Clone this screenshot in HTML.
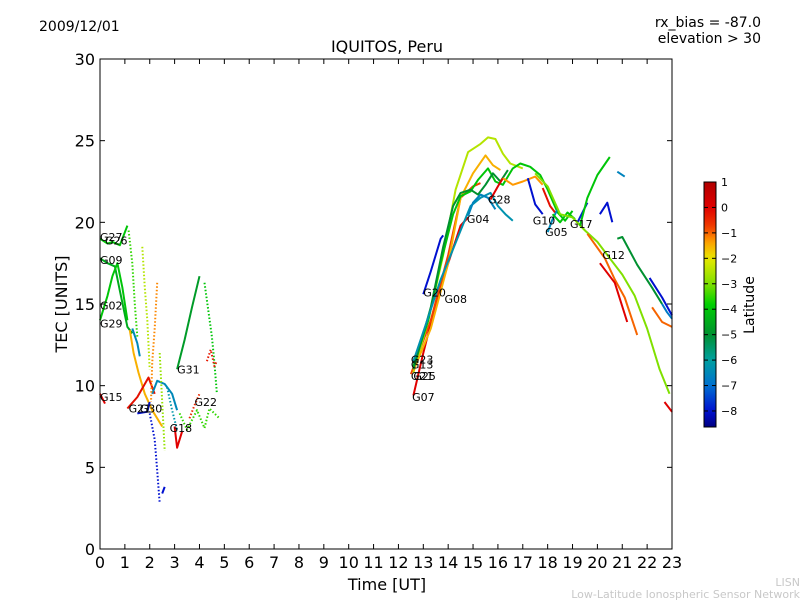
<!DOCTYPE html>
<html><head><meta charset="utf-8"><style>
body{margin:0;background:#fff;width:800px;height:600px;overflow:hidden}
svg{display:block;font-family:"DejaVu Sans","Liberation Sans",sans-serif}
</style></head><body>
<svg id="c" width="800" height="600" xmlns="http://www.w3.org/2000/svg">
<text x="39" y="31" font-size="14">2009/12/01</text>
<text x="761" y="27" font-size="14" text-anchor="end">rx_bias = -87.0</text>
<text x="761" y="43" font-size="14" text-anchor="end">elevation &gt; 30</text>
<text x="387" y="52" font-size="16" text-anchor="middle">IQUITOS, Peru</text>
<text x="387" y="590" font-size="16" text-anchor="middle">Time [UT]</text>
<text x="67" y="304" font-size="16" text-anchor="middle" transform="rotate(-90 67 304)">TEC [UNITS]</text>
<text x="800" y="586" font-size="11" fill="#c8c8c8" text-anchor="end">LISN</text>
<text x="800" y="598" font-size="11" fill="#c8c8c8" text-anchor="end">Low-Latitude Ionospheric Sensor Network</text>
<g id="tracks"></g>
<g id="axes"></g>
<g id="labels"></g>
<g id="cbar"></g>
<text x="754" y="305" font-size="14" text-anchor="middle" transform="rotate(-90 754 305)">Latitude</text>
</svg>
<script>
const xTicks=[0,1,2,3,4,5,6,7,8,9,10,11,12,13,14,15,16,17,18,19,20,21,22,23];
const yTicks=[0,5,10,15,20,25,30];
const cbTicks=[1,0,-1,-2,-3,-4,-5,-6,-7,-8];
const latMin=-8.63, latMax=1;
const trackLat=[-4,-3.5,-4.5,-4,-6.5,-1.5,-0.2,0,-8,-8,-6.5,-4.8,-4,-1.2,-2.5,-0.3,0,-6.2,-3.5,-8,-2.8,-0.5,
 0,-0.8,-2.5,-1.5,-4,-5,-6.3,-8,-6.6,0,-1.3,-0.2,-8,-6.5,-4,-7.8,-3,-1,0,-4,-5,-6.8,-8,-1,0,-8,-6.6];
const trackDot=[0,1,0,0,0,0,0,0,0,1,0,0,1,1,1,1,0,1,1,0,1,1,
 0,0,0,0,0,0,0,0,0,0,0,0,0,0,0,0,0,0,0,0,0,0,0,0,0,0,0];
const trackPts=[
 [[0,19],[0.3,18.7],[0.5,18.8],[0.8,18.6],[1.1,19.8]],
 [[1.15,19.5],[1.3,17.5],[1.4,15],[1.5,13]],
 [[0,17.8],[0.3,17.5],[0.6,17.3],[0.8,15.8],[1.1,13.6],[1.3,13.2]],
 [[0,14],[0.3,15.5],[0.5,16.7],[0.7,17.5],[0.9,16],[1.1,14]],
 [[1.3,13.5],[1.5,12.6],[1.6,11.8]],
 [[1.2,13.4],[1.35,12],[1.55,10.8],[1.8,9.5],[2.1,8.5],[2.5,7.5]],
 [[1.1,8.6],[1.5,9.3],[1.95,10.5],[2.2,9.5]],
 [[0,9.5],[0.2,8.9]],
 [[1.5,8.3],[1.9,8.4],[2.0,9.0]],
 [[2.0,8.3],[2.2,6.7],[2.3,4.8],[2.4,2.8]],
 [[2.1,9.5],[2.3,10.3],[2.6,10.1],[2.9,9.5],[3.1,8.5]],
 [[3.1,11],[3.4,12.8],[3.7,14.8],[4.0,16.7]],
 [[4.2,16.3],[4.5,13],[4.6,11.4],[4.7,9.5]],
 [[2.3,16.3],[2.2,13.5],[2.1,11.4],[2.05,9]],
 [[1.7,18.5],[1.8,16],[1.9,14],[2.0,11]],
 [[4.3,11.5],[4.45,12.2],[4.6,11.2],[4.7,11.5]],
 [[3.0,7.5],[3.1,6.2],[3.3,7.2]],
 [[2.7,9.9],[2.9,8.5],[3.1,7.3]],
 [[3.2,8.3],[3.5,7.3],[3.9,8.5],[4.2,7.4],[4.4,8.6],[4.8,8]],
 [[2.5,3.4],[2.6,3.8]],
 [[2.4,12],[2.5,9],[2.6,6]],
 [[3.6,8],[3.8,8.8],[4.0,9.5]],
 [[12.6,9.4],[13,12],[13.5,15],[14,17.5],[14.5,19.8],[14.8,20.3]],
 [[12.5,10.7],[13.3,14],[14.0,18],[14.5,21.5],[15.0,22.2],[15.3,22.4]],
 [[12.6,10.8],[13.2,14],[13.8,18],[14.3,22],[14.8,24.3],[15.3,24.8],[15.6,25.2],[15.9,25.1],[16.2,24.2],[16.5,23.6],[17,23.3]],
 [[12.6,10.9],[13.3,13.5],[14,17.5],[14.5,21.5],[15,23],[15.5,24.1],[15.8,23.5],[16.1,23.2]],
 [[12.6,11.2],[13.2,14],[13.7,17.5],[14.2,20.5],[14.5,21.6],[14.9,21.9],[15.2,22.6],[15.6,23.3],[15.9,22.5],[16.2,22.3],[16.6,23.3],[16.9,23.6],[17.3,23.4],[17.7,22.9],[18.0,22.0],[18.4,20.6],[18.7,20.1],[19.0,20.7]],
 [[12.6,11],[13.3,14.8],[13.8,18.5],[14.2,21],[14.5,21.8],[14.9,22.0],[15.2,21.7],[15.5,22.3],[15.8,23.0],[16.1,22.5],[16.4,23.2]],
 [[12.6,11.5],[13.2,14.2],[13.7,16.5],[14.1,18],[14.5,19.5],[14.9,21],[15.3,21.5],[15.7,21.8],[16,21.0],[16.3,20.5],[16.6,20.1]],
 [[13.0,15.6],[13.3,17.0],[13.7,19.0],[13.8,19.2]],
 [[14.8,20.4],[15.0,21.2],[15.3,21.7],[15.6,21.5],[15.9,20.8]],
 [[15.7,21.4],[16.0,22.2],[16.2,22.7]],
 [[16.2,22.7],[16.6,22.3],[17.0,22.5],[17.5,22.8],[17.8,22.3]],
 [[17.8,22.1],[18.1,21.0],[18.3,20.6]],
 [[17.2,22.7],[17.5,21.1],[17.8,20.5]],
 [[18.0,19.4],[18.2,20.2],[18.4,20.8]],
 [[18.2,20.5],[18.5,20.0],[18.8,20.6],[19.1,20.2]],
 [[19.2,20.0],[19.6,21.2]],
 [[17.5,23],[18.0,22.2],[18.5,20.5],[19.0,20.3],[19.5,19.5],[20.0,18.8],[20.5,17.8],[21.0,16.8],[21.5,15.5],[22.0,13.5],[22.5,11],[22.9,9.5]],
 [[19.6,19.3],[20.3,17.8],[20.7,16.5],[21.1,15.4],[21.6,13.1]],
 [[20.1,17.5],[20.7,16.3],[21.2,13.9]],
 [[19.3,19.8],[19.6,21.5],[20.0,22.9],[20.5,24.0]],
 [[20.8,19.0],[21.0,19.1],[21.6,17.4],[22.2,16.0],[22.6,15]],
 [[22.6,15],[22.8,14.5],[23,14.1]],
 [[20.1,20.5],[20.4,21.2],[20.6,20]],
 [[22.2,14.8],[22.6,13.9],[23,13.6]],
 [[22.7,9],[23,8.4]],
 [[22.1,16.6],[22.6,15.4],[23,14.3]],
 [[20.8,23.1],[21.1,22.8]]
];
const satNames=["G27","G26","G09","G02","G29","G15","G21","G30","G31","G22","G18","G23","G13","G21","G25","G07","G20","G08","G04","G28","G10","G05","G17","G12"];
const satT=[0,0.2,0,0,0,0,1.15,1.6,3.1,3.8,2.8,12.5,12.5,12.5,12.6,12.55,13.0,13.85,14.75,15.6,17.4,17.9,18.9,20.2];
const satV=[19.1,18.9,17.7,14.9,13.8,9.3,8.6,8.6,11,9,7.4,11.6,11.3,10.6,10.6,9.3,15.7,15.3,20.2,21.4,20.1,19.4,19.9,18.0];
const cmapLat=[1,0,-0.8,-1.3,-2,-3,-3.8,-5,-6,-7,-8,-8.63];
const cmapCol=[[176,0,0],[224,0,0],[240,64,0],[255,153,0],[232,232,0],[128,224,0],[0,208,0],[0,144,48],[0,160,160],[0,112,208],[0,16,208],[0,0,128]];

const NS='http://www.w3.org/2000/svg';
const X0=100,X1=672,Y0=549,Y1=59;
const xs=t=>X0+t*(X1-X0)/23, ys=v=>Y0-v*(Y0-Y1)/30;
function cmap(l){l=Math.max(latMin,Math.min(latMax,l));
 for(let i=0;i<cmapLat.length-1;i++){const a=cmapLat[i],b=cmapLat[i+1];
  if(l<=a&&l>=b){const f=(a-l)/(a-b);const c=cmapCol[i].map((v,k)=>Math.round(v+(cmapCol[i+1][k]-v)*f));return `rgb(${c})`;}}
 return 'rgb(0,0,128)';}
function mk(tag,at,parent){const e=document.createElementNS(NS,tag);for(const k in at)e.setAttribute(k,at[k]);parent.appendChild(e);return e;}
const gT=document.getElementById('tracks');
trackPts.forEach((pts,i)=>{
 const d=pts.map((p,j)=>(j?'L':'M')+xs(p[0]).toFixed(1)+','+ys(p[1]).toFixed(1)).join('');
 const a={d:d,fill:'none',stroke:cmap(trackLat[i]),'stroke-width':2,'stroke-linejoin':'round'};
 if(trackDot[i])a['stroke-dasharray']='1.5,2';
 const e=mk('path',a,gT);
 
 
});
const gA=document.getElementById('axes');
const fr=mk('rect',{x:X0,y:Y1,width:X1-X0,height:Y0-Y1,fill:'none',stroke:'#000','stroke-width':1},gA);


xTicks.forEach(t=>{const x=xs(t);
 mk('line',{x1:x,x2:x,y1:Y0,y2:Y0-5,stroke:'#000'},gA);mk('line',{x1:x,x2:x,y1:Y1,y2:Y1+5,stroke:'#000'},gA);
 const e=mk('text',{x:x,y:Y0+19,'font-size':16,'text-anchor':'middle'},gA);e.textContent=t;
 
 });
yTicks.forEach(v=>{const y=ys(v);
 mk('line',{x1:X0,x2:X0+5,y1:y,y2:y,stroke:'#000'},gA);mk('line',{x1:X1,x2:X1-5,y1:y,y2:y,stroke:'#000'},gA);
 const e=mk('text',{x:X0-5,y:y+6,'font-size':16,'text-anchor':'end'},gA);e.textContent=v;
 
 });
const gL=document.getElementById('labels');
satNames.forEach((n,i)=>{const e=mk('text',{x:xs(satT[i]),y:ys(satV[i])+4,'font-size':11},gL);e.textContent=n;
 
 });
const gC=document.getElementById('cbar');
const CB0=182,CB1=427;
const defs=mk('defs',{},gC);const lg=mk('linearGradient',{id:'jg',x1:0,y1:0,x2:0,y2:1},defs);
for(let i=0;i<=40;i++){const l=latMax-(latMax-latMin)*i/40;mk('stop',{offset:i/40,'stop-color':cmap(l)},lg);}
const cr=mk('rect',{x:704,y:CB0,width:12,height:CB1-CB0,fill:'url(#jg)',stroke:'#000'},gC);


cbTicks.forEach(l=>{const y=CB0+(latMax-l)*(CB1-CB0)/(latMax-latMin);mk('line',{x1:704,x2:708,y1:y,y2:y,stroke:'#000'},gC);mk('line',{x1:716,x2:712,y1:y,y2:y,stroke:'#000'},gC);
 const e=mk('text',{x:721,y:y+4,'font-size':11},gC);e.textContent=(l<0?'\u2212'+(-l):l);
 
 });
</script>
</body></html>
